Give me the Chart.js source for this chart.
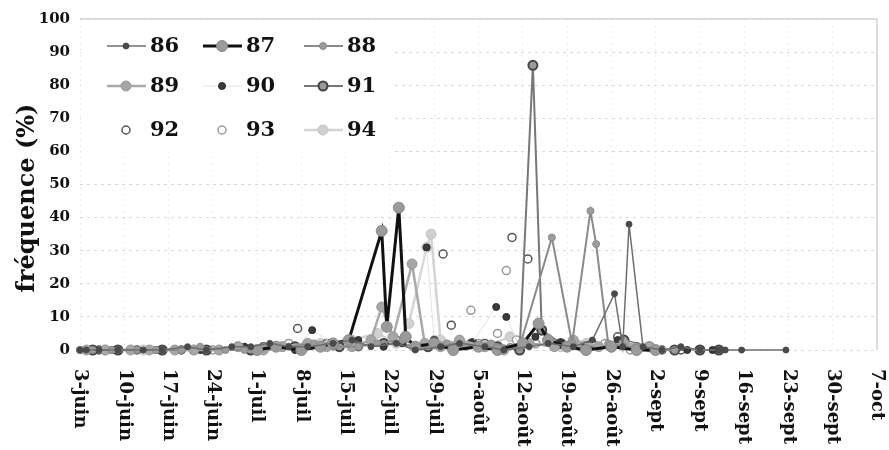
<!DOCTYPE html>
<html lang="fr">
<head>
<meta charset="utf-8">
<title>fréquence (%)</title>
<script src="https://cdn.jsdelivr.net/npm/chart.js@4.4.1/dist/chart.umd.min.js"></script>
<style>
  html, body { margin: 0; padding: 0; background: #fff; }
  #wrap { width: 889px; height: 450px; position: relative; }
</style>
</head>
<body>
<div id="wrap"><canvas id="freqChart"></canvas></div>
<script>
// ── Axis labels (x = days after 3 June) ─────────────────
const dateDays   = [0, 7, 14, 21, 28, 35, 42, 49, 56, 63, 70, 77, 84, 91, 98, 105, 112, 119, 126];
const dateLabels = ["3-juin", "10-juin", "17-juin", "24-juin", "1-juil", "8-juil", "15-juil",
                    "22-juil", "29-juil", "5-août", "12-août", "19-août", "26-août", "2-sept",
                    "9-sept", "16-sept", "23-sept", "30-sept", "7-oct"];
const yTickValues = [0, 10, 20, 30, 40, 50, 60, 70, 80, 90, 100];
const yTitle = "fréquence (%)";

// ── Series ──────────────────────────────────────────────
const seriesNames = ["86", "87", "88", "89", "90", "91", "92", "93", "94"];

const days86 = [0, 1, 3, 6, 10, 13, 17, 20, 24, 27, 30, 33, 36, 40, 43, 46, 50, 53, 57, 60, 64, 67, 71, 74, 78, 81, 84.5, 85.8, 86.8, 89, 92, 95, 98, 101, 102, 104.6, 111.6];
const vals86 = [0, 0, 0, 0, 0, 0, 1, 0, 1, 1, 2, 1, 1, 2, 3, 1, 2, 0, 1, 2, 1, 0, 1, 2, 1, 3, 17, 1, 38, 1, 0, 1, 0, 0, 0, 0, 0];

const days87 = [28, 31, 35, 38, 40, 42.5, 47.7, 48.5, 50.4, 51.5, 53, 56, 59, 63, 66, 70, 72.5, 74, 77, 80, 84, 88, 91];
const vals87 = [0, 1, 0, 1, 2, 3, 36, 7, 43, 4, 1, 2, 0, 1, 0, 2, 8, 3, 1, 0, 1, 0, 0];

const days88 = [0, 2, 5, 9, 12, 16, 19, 23, 26, 30, 33, 37, 40, 44, 47, 51, 54, 58, 61, 65, 68, 69.5, 74.6, 77.8, 80.7, 81.6, 83.5, 86, 88, 91, 94];
const vals88 = [0, 0, 0, 0, 0, 0, 1, 0, 0, 1, 1, 2, 1, 1, 2, 3, 1, 2, 1, 2, 1, 1, 34, 2, 42, 32, 2, 1, 1, 0, 0];

const days89 = [1, 4, 8, 11, 15, 18, 22, 25, 29, 32, 36, 39, 43, 46, 47.7, 49.5, 52.5, 54.5, 57, 60, 64, 67, 71, 75, 78, 82, 86, 90];
const vals89 = [0, 0, 0, 0, 0, 0, 0, 1, 0, 1, 2, 1, 1, 3, 13, 4, 26, 2, 1, 3, 1, 0, 2, 1, 3, 1, 2, 1];

const days90 = [0, 5, 12, 19, 26, 31, 34, 36.7, 40, 44, 48, 51, 54.8, 56, 59, 62, 65.8, 67.4, 69.5, 72, 76, 80, 85, 90, 96, 100];
const vals90 = [0, 0, 0, 0, 1, 1, 0, 6, 2, 3, 1, 2, 31, 3, 1, 2, 13, 10, 1, 4, 2, 1, 3, 1, 0, 0];

const days91 = [2, 6, 13, 20, 27, 34, 41, 48, 55, 62, 66, 69.5, 71.6, 73, 76, 80, 84, 86, 90, 94, 98, 101];
const vals91 = [0, 0, 0, 0, 0, 1, 1, 2, 1, 2, 1, 0, 86, 6, 2, 1, 1, 3, 1, 0, 0, 0];

const days92 = [3, 9, 16, 22, 29, 34.4, 39, 44, 50, 57.4, 58.7, 64, 68.3, 70.8, 74, 77, 81, 85, 88, 92, 95];
const vals92 = [0, 0, 0, 0, 1, 6.5, 2, 1, 3, 29, 7.5, 2, 34, 27.5, 3, 1, 2, 4, 1, 0, 0];

const days93 = [2, 8, 15, 21, 28, 33, 38, 43, 48, 53, 56, 61.8, 63, 66, 67.4, 69, 72, 75, 79, 83, 87, 91];
const vals93 = [0, 0, 0, 0, 0, 2, 1, 1, 2, 1, 3, 12, 2, 5, 24, 3, 2, 1, 1, 2, 0, 0];

const days94 = [4, 10, 18, 25, 32, 38, 43, 47, 50, 52, 54.8, 55.5, 57, 60, 64, 68, 72, 76, 80, 84, 88];
const vals94 = [0, 0, 0, 1, 1, 2, 3, 5, 2, 8, 31, 35, 3, 2, 1, 4, 2, 1, 2, 1, 0];

const seriesDays = [days86, days87, days88, days89, days90, days91, days92, days93, days94];
const seriesVals = [vals86, vals87, vals88, vals89, vals90, vals91, vals92, vals93, vals94];

// ── Styles (grey scan look) ─────────────────────────────
const seriesStyles = [
  { line: "#6e6e6e", width: 1.5, fill: "#4a4a4a", edge: "#4a4a4a", r: 3,   bw: 1 },   // 86
  { line: "#111111", width: 3,   fill: "#9a9a9a", edge: "#8a8a8a", r: 5.5, bw: 1 },   // 87
  { line: "#8a8a8a", width: 2,   fill: "#9c9c9c", edge: "#8a8a8a", r: 3.5, bw: 1 },   // 88
  { line: "#a9a9a9", width: 2.5, fill: "#a6a6a6", edge: "#999999", r: 5,   bw: 1 },   // 89
  { line: "#e2e2e2", width: 1,   fill: "#3a3a3a", edge: "#2a2a2a", r: 3.5, bw: 1 },   // 90
  { line: "#777777", width: 2,   fill: "#9a9a9a", edge: "#444444", r: 4.5, bw: 2 },   // 91
  { line: null,      width: 0,   fill: "#ffffff", edge: "#555555", r: 4,   bw: 1.5 }, // 92
  { line: null,      width: 0,   fill: "#ffffff", edge: "#9a9a9a", r: 4,   bw: 1.5 }, // 93
  { line: "#d4d4d4", width: 2.5, fill: "#d0d0d0", edge: "#c4c4c4", r: 5,   bw: 1 }    // 94
];

const SERIF = "'DejaVu Serif', 'Liberation Serif', serif";

const datasets = seriesNames.map((name, i) => {
  const st = seriesStyles[i];
  return {
    label: name,
    data: seriesDays[i].map((d, j) => ({ x: d, y: seriesVals[i][j] })),
    showLine: st.line !== null,
    borderColor: st.line || st.edge,
    borderWidth: st.width,
    pointRadius: st.r,
    pointBackgroundColor: st.fill,
    pointBorderColor: st.edge,
    pointBorderWidth: st.bw,
    tension: 0,
    clip: false
  };
});

// ── Plugins: frame, rotated date labels, y title, 3x3 legend ──
const framePlugin = {
  id: "frame",
  beforeDatasetsDraw(chart) {
    const { ctx, chartArea: a } = chart;
    ctx.save();
    ctx.strokeStyle = "#d4d4d4";
    ctx.lineWidth = 1.5;
    ctx.beginPath();
    ctx.moveTo(a.left, a.top);
    ctx.lineTo(a.right, a.top);
    ctx.lineTo(a.right, a.bottom);
    ctx.stroke();
    ctx.restore();
  }
};

const textPlugin = {
  id: "texts",
  afterDraw(chart) {
    const { ctx, chartArea: a } = chart;
    const xScale = chart.scales.x;
    ctx.save();
    ctx.fillStyle = "#111";

    // dates, reading downwards
    ctx.font = "bold 18px " + SERIF;
    ctx.textAlign = "left";
    ctx.textBaseline = "middle";
    dateDays.forEach((d, i) => {
      ctx.save();
      ctx.translate(xScale.getPixelForValue(d), a.bottom + 19);
      ctx.rotate(Math.PI / 2);
      ctx.fillText(dateLabels[i], 0, 0);
      ctx.restore();
    });

    // y title
    ctx.font = "bold 24px " + SERIF;
    ctx.textAlign = "center";
    ctx.save();
    ctx.translate(28, 198);
    ctx.rotate(-Math.PI / 2);
    ctx.fillText(yTitle, 0, 0);
    ctx.restore();

    // legend in the plot, 3 columns
    const colX = [27, 123, 224];
    const rowY = [27, 67, 111];
    ctx.fillStyle = "#fff";
    ctx.fillRect(a.left + 1, a.top + 1, 312, 132);
    ctx.font = "bold 21px " + SERIF;
    ctx.textAlign = "left";
    chart.data.datasets.forEach((ds, i) => {
      const x = a.left + colX[i % 3];
      const y = a.top + rowY[Math.floor(i / 3)];
      if (ds.showLine) {
        ctx.strokeStyle = ds.borderColor;
        ctx.lineWidth = ds.borderWidth;
        ctx.beginPath();
        ctx.moveTo(x, y);
        ctx.lineTo(x + 39, y);
        ctx.stroke();
      }
      ctx.beginPath();
      ctx.arc(x + 19, y, ds.pointRadius, 0, Math.PI * 2);
      ctx.fillStyle = ds.pointBackgroundColor;
      ctx.fill();
      ctx.strokeStyle = ds.pointBorderColor;
      ctx.lineWidth = ds.pointBorderWidth;
      ctx.stroke();
      ctx.fillStyle = "#111";
      ctx.fillText(ds.label, x + 43, y + 1);
    });
    ctx.restore();
  }
};

// ── Chart ───────────────────────────────────────────────
new Chart(document.getElementById("freqChart"), {
  type: "line",
  data: { datasets },
  plugins: [framePlugin, textPlugin],
  options: {
    responsive: true,
    maintainAspectRatio: false,
    animation: false,
    layout: { padding: { top: 15, right: 12, left: 0, bottom: 0 } },
    plugins: {
      legend: { display: false },
      tooltip: { enabled: false }
    },
    scales: {
      x: {
        type: "linear",
        min: 0,
        max: 126,
        afterBuildTicks: s => { s.ticks = dateDays.map(v => ({ value: v })); },
        afterFit: s => { s.height = 100; },
        ticks: { display: false },
        grid: { color: "#ececec", lineWidth: 1, drawTicks: false },
        border: { display: false, dash: [2, 4] }
      },
      y: {
        min: 0,
        max: 100,
        afterBuildTicks: s => { s.ticks = yTickValues.map(v => ({ value: v })); },
        afterFit: s => { s.width = 80; },
        ticks: {
          padding: 10,
          color: "#111",
          font: { family: SERIF, weight: "bold", size: 15 }
        },
        grid: { color: "#d8d8d8", lineWidth: 1, drawTicks: false },
        border: { display: false, dash: [3, 4] }
      }
    }
  }
});
</script>
</body>
</html>
